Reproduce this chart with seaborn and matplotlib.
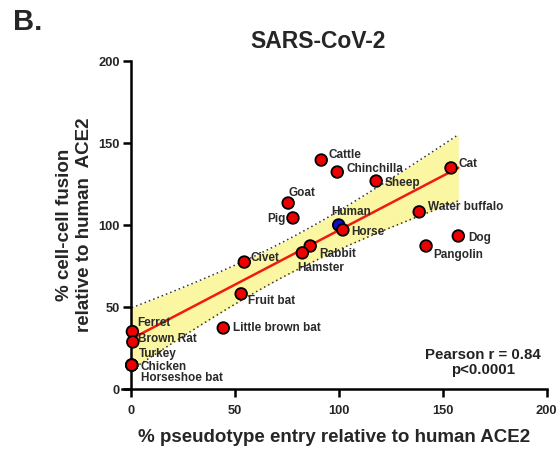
import numpy as np
import pandas as pd
import matplotlib
matplotlib.use("Agg")
import matplotlib.pyplot as plt
import seaborn as sns

# Species measured with SARS-CoV-2 spike
species = ["Cattle", "Chinchilla", "Sheep", "Cat", "Goat", "Pig", "Human", "Horse",
           "Water buffalo", "Dog", "Pangolin", "Rabbit", "Hamster", "Civet",
           "Fruit bat", "Little brown bat", "Ferret", "Brown Rat", "Turkey",
           "Chicken", "Horseshoe bat"]
# % pseudotype entry relative to human ACE2
entry = [91.6, 99.3, 118.0, 154.0, 75.7, 78.0, 100.0, 102.0,
         138.7, 157.5, 142.0, 86.3, 82.5, 54.6,
         53.1, 44.5, 0.8, 1.0, 0.5, 0.5, 0.5]
# % cell-cell fusion relative to human ACE2
fusion = [139.6, 132.3, 126.8, 134.8, 113.4, 104.3, 100.0, 97.0,
          108.0, 93.3, 87.2, 87.2, 83.0, 77.4,
          58.0, 37.2, 35.0, 28.7, 14.6, 14.6, 14.6]

# label placement (pixel offsets from each point, horizontal alignment)
label_pos = {
    "Cattle": (7, 5, "left"), "Chinchilla": (9, 3, "left"), "Sheep": (8, -2, "left"),
    "Cat": (7, 4, "left"), "Goat": (0, 10, "left"), "Pig": (-7, -1, "right"),
    "Human": (-7, 13, "left"), "Horse": (8, -2, "left"),
    "Water buffalo": (9, 5, "left"), "Dog": (10, -2, "left"),
    "Pangolin": (7, -9, "left"), "Rabbit": (9, -8, "left"),
    "Hamster": (-5, -15, "left"), "Civet": (6, 4, "left"),
    "Fruit bat": (7, -7, "left"), "Little brown bat": (10, 0, "left"),
    "Ferret": (5, 9, "left"), "Brown Rat": (5, 3, "left"),
    "Turkey": (7, 11, "left"), "Chicken": (9, -2, "left"),
    "Horseshoe bat": (9, -13, "left"),
}

df = pd.DataFrame({"species": species, "entry": entry, "fusion": fusion})
df["group"] = np.where(df["species"] == "Human", "Human", "Other")

sns.set_style("ticks")
plt.rcParams["font.family"] = ["Liberation Sans", "DejaVu Sans"]
plt.rcParams["font.weight"] = "bold"

fig = plt.figure(figsize=(5.56, 4.51), dpi=100)
ax = fig.add_axes([122.4 / 556, 1 - 389 / 451, (546.7 - 122.4) / 556, (389 - 61) / 451])

red = "#f01a10"
sns.regplot(data=df, x="entry", y="fusion", ax=ax, scatter=False, ci=None,
            color=red, line_kws={"lw": 1.8, "zorder": 3})

# 95% confidence band of the least-squares line (t, 19 df)
x = df["entry"].to_numpy()
y = df["fusion"].to_numpy()
n = len(x)
slope, icpt = np.polyfit(x, y, 1)
resid = y - (slope * x + icpt)
s = np.sqrt(np.sum(resid ** 2) / (n - 2))
sxx = np.sum((x - x.mean()) ** 2)
gx = ax.lines[0].get_xdata()
fit = slope * gx + icpt
half = 2.093 * s * np.sqrt(1 / n + (gx - x.mean()) ** 2 / sxx)
lo, hi = fit - half, fit + half
ax.fill_between(gx, lo, hi, color="#fbf6a2", lw=0, zorder=1)
ax.plot(gx, lo, ls=(0, (1, 2)), color="#333333", lw=1.1, zorder=2)
ax.plot(gx, hi, ls=(0, (1, 2)), color="#333333", lw=1.1, zorder=2)

sns.scatterplot(data=df, x="entry", y="fusion", hue="group",
                palette={"Other": "#ee0000", "Human": "#1010c8"},
                s=70, edgecolor="black", linewidth=1.3, legend=False,
                ax=ax, zorder=4)

for sp, xv, yv in zip(species, entry, fusion):
    dx, dy, ha = label_pos[sp]
    ax.annotate(sp, (xv, yv), xytext=(dx, dy), textcoords="offset pixels",
                ha=ha, va="center", fontsize=8.5, fontweight="bold",
                color="#2a2a2a", zorder=5)

ax.text(169.5, 20.7, "Pearson r = 0.84", ha="center", va="center",
        fontsize=10.8, fontweight="bold", color="#222222")
ax.text(169.5, 11.6, "p<0.0001", ha="center", va="center",
        fontsize=10.8, fontweight="bold", color="#222222")

ax.set_xlim(-4, 200)
ax.set_ylim(0, 200)
sns.despine(ax=ax)
ax.spines["left"].set_position(("data", 0))
for sp_name in ("left", "bottom"):
    ax.spines[sp_name].set_linewidth(1.8)
    ax.spines[sp_name].set_color("black")
ax.set_xticks([0, 50, 100, 150, 200])
ax.set_yticks([0, 50, 100, 150, 200])
ax.tick_params(axis="both", width=1.8, length=5.8, labelsize=9.3, color="black")
ax.tick_params(axis="x", pad=5.5)
ax.tick_params(axis="y", pad=2)
for lab in ax.get_xticklabels() + ax.get_yticklabels():
    lab.set_fontweight("bold")

ax.set_xlabel("% pseudotype entry relative to human ACE2", fontsize=13.5,
              fontweight="bold", labelpad=9)
ax.set_ylabel("% cell-cell fusion\nrelative to human  ACE2", fontsize=13.5,
              fontweight="bold", labelpad=4)

fig.text(318 / 556, 1 - 41 / 451, "SARS-CoV-2", ha="center", va="center",
         fontsize=16.5, fontweight="bold")
fig.text(13 / 556, 1 - 22 / 451, "B.", ha="left", va="center",
         fontsize=21, fontweight="bold")

fig.savefig("out.png", dpi=100)
